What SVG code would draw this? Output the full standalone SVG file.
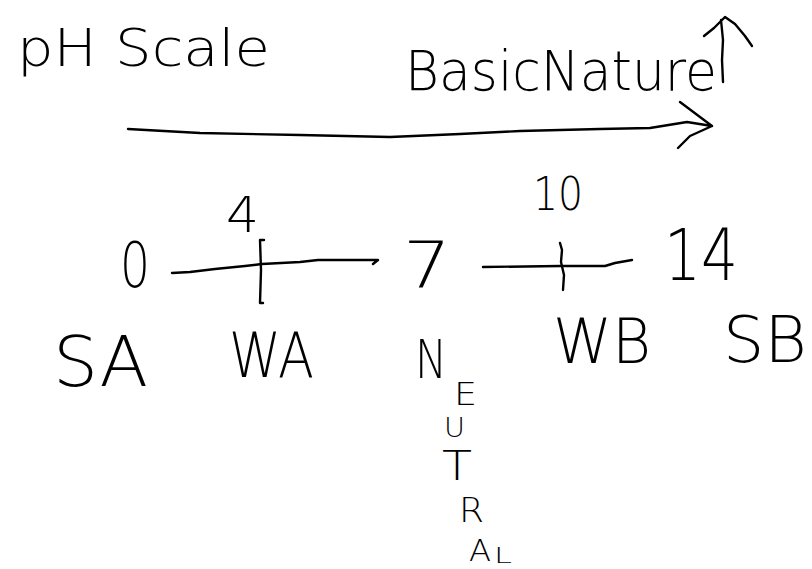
<svg xmlns="http://www.w3.org/2000/svg" width="812" height="569" viewBox="0 0 812 569">
<style>
  .t { font-family: "DejaVu Sans", "Liberation Sans", sans-serif; font-weight: 200; fill: #000; }
  .s { fill: none; stroke: #000; stroke-width: 2.4; stroke-linecap: round; stroke-linejoin: round; }
</style>
<rect width="812" height="569" fill="#fff"/>
<g id="title"><text class="t" x="17" y="66" font-size="52" textLength="253" lengthAdjust="spacingAndGlyphs">pH Scale</text></g>
<g id="basic-nature">
  <text class="t" x="405" y="90" font-size="56" textLength="312" lengthAdjust="spacingAndGlyphs">BasicNature</text>
  <path class="s" d="M723,82 L722,60 L723,40 L721,20 M704,36 L714,28 L725,17 L735,24 L745,36 L752,46"/>
</g>
<g id="connectors">
  <path class="s" d="M128,129 L200,133 L300,135 L390,137 L460,134 L520,131 L600,129 L650,128 L687,122 L712,126 M680,102 L696,114 L712,126 L690,136 L678,148"/>
  <path class="s" d="M172,273 L190,272 L215,269 L245,266 L262,264 L300,262 L318,260 L378,260 L373,264"/>
  <path class="s" d="M264,240 L260,240 L261,270 L260,303 L263,303"/>
  <path class="s" d="M483,267 L560,266 L605,266 L615,263 L632,260"/>
  <path class="s" d="M560,243 L562,250 L561,262 L564,275 L563,290"/>
</g>
<g id="n0"><text class="t" x="120" y="287" font-size="62" textLength="30" lengthAdjust="spacingAndGlyphs">0</text></g>
<g id="n4"><text class="t" x="226" y="232" font-size="50" textLength="33" lengthAdjust="spacingAndGlyphs">4</text></g>
<g id="n7"><text class="t" x="403" y="287" font-size="64" textLength="48" lengthAdjust="spacingAndGlyphs">7</text></g>
<g id="n10"><text class="t" x="533" y="210" font-size="46" textLength="50" lengthAdjust="spacingAndGlyphs">10</text></g>
<g id="n14"><text class="t" x="664" y="280" font-size="72" textLength="74" lengthAdjust="spacingAndGlyphs">14</text></g>
<g id="sa"><text class="t" x="53" y="386" font-size="70" textLength="95" lengthAdjust="spacingAndGlyphs">SA</text></g>
<g id="wa"><text class="t" x="229" y="377" font-size="62" textLength="85" lengthAdjust="spacingAndGlyphs">WA</text></g>
<g id="neutral">
  <text class="t" x="415" y="378" font-size="54" textLength="32" lengthAdjust="spacingAndGlyphs">N</text>
  <text class="t" x="454" y="405" font-size="32" textLength="23" lengthAdjust="spacingAndGlyphs">E</text>
  <text class="t" x="444" y="437" font-size="26" textLength="21" lengthAdjust="spacingAndGlyphs">U</text>
  <text class="t" x="442" y="480" font-size="40" textLength="30" lengthAdjust="spacingAndGlyphs">T</text>
  <text class="t" x="459" y="522" font-size="34" textLength="25" lengthAdjust="spacingAndGlyphs">R</text>
  <text class="t" x="469" y="561" font-size="30" textLength="22" lengthAdjust="spacingAndGlyphs">A</text>
  <text class="t" x="494" y="563" font-size="22" textLength="18" lengthAdjust="spacingAndGlyphs">L</text>
</g>
<g id="wb"><text class="t" x="553" y="363" font-size="62" textLength="98" lengthAdjust="spacingAndGlyphs">WB</text></g>
<g id="sb"><text class="t" x="723" y="362" font-size="64" textLength="84" lengthAdjust="spacingAndGlyphs">SB</text></g>
</svg>
